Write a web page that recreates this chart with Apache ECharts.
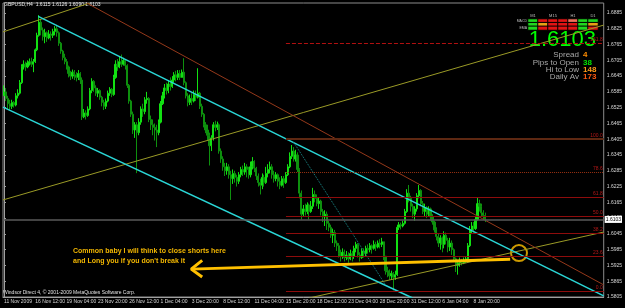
<!DOCTYPE html>
<html>
<head>
<meta charset="utf-8">
<title>GBPUSD,H4</title>
<script src="https://cdn.jsdelivr.net/npm/echarts@6.0.0/dist/echarts.min.js"></script>
<style>
  html, body { margin: 0; padding: 0; background: #000; }
  #main { width: 625px; height: 308px; }
</style>
</head>
<body>
<div id="main"></div>
<script>
// GBPUSD H4 candles (open = previous close)
var firstOpen = 1.6570;
var closes = [
  1.6585,1.6560,1.6540,1.6530,1.6545,1.6535,1.6570,1.6580,1.6620,1.6680,
  1.6690,1.6680,1.6695,1.6700,1.6690,1.6700,1.6745,1.6800,1.6850,1.6820,
  1.6795,1.6810,1.6790,1.6805,1.6800,1.6815,1.6825,1.6810,1.6770,1.6740,
  1.6715,1.6700,1.6680,1.6655,1.6645,1.6660,1.6650,1.6640,1.6655,1.6630,
  1.6490,1.6505,1.6495,1.6520,1.6590,1.6625,1.6600,1.6580,1.6590,1.6565,
  1.6545,1.6530,1.6550,1.6580,1.6595,1.6575,1.6640,1.6690,1.6680,1.6700,
  1.6690,1.6705,1.6685,1.6610,1.6550,1.6500,1.6440,1.6460,1.6430,1.6470,
  1.6520,1.6510,1.6555,1.6560,1.6480,1.6460,1.6450,1.6440,1.6430,1.6470,
  1.6540,1.6570,1.6600,1.6590,1.6615,1.6605,1.6630,1.6650,1.6640,1.6655,
  1.6640,1.6660,1.6620,1.6570,1.6545,1.6560,1.6550,1.6575,1.6565,1.6580,
  1.6530,1.6500,1.6460,1.6440,1.6420,1.6380,1.6410,1.6460,1.6450,1.6460,
  1.6360,1.6330,1.6300,1.6285,1.6300,1.6270,1.6255,1.6275,1.6260,1.6245,
  1.6270,1.6290,1.6280,1.6300,1.6290,1.6270,1.6300,1.6320,1.6295,1.6265,
  1.6240,1.6230,1.6260,1.6240,1.6275,1.6290,1.6300,1.6270,1.6255,1.6270,
  1.6245,1.6230,1.6255,1.6240,1.6270,1.6300,1.6340,1.6360,1.6330,1.6345,
  1.6290,1.6200,1.6120,1.6140,1.6130,1.6155,1.6130,1.6150,1.6195,1.6180,
  1.6160,1.6170,1.6130,1.6110,1.6120,1.6085,1.6070,1.6040,1.6050,1.6010,
  1.6000,1.5970,1.5960,1.5975,1.5955,1.5965,1.5950,1.5970,1.5960,1.5990,
  1.6005,1.5965,1.5955,1.5980,1.5970,1.5990,1.5985,1.6000,1.5990,1.6005,
  1.5995,1.6010,1.6005,1.6015,1.5960,1.5905,1.5900,1.5885,1.5895,1.5880,
  1.5890,1.6070,1.6080,1.6075,1.6085,1.6130,1.6200,1.6180,1.6150,1.6120,
  1.6140,1.6190,1.6210,1.6160,1.6130,1.6145,1.6120,1.6140,1.6110,1.6090,
  1.6060,1.6035,1.6010,1.6030,1.6005,1.6040,1.6020,1.5995,1.6010,1.5985,
  1.5950,1.5925,1.5935,1.5945,1.5935,1.5945,1.5950,1.6000,1.6060,1.6075,
  1.6065,1.6100,1.6160,1.6150,1.6125,1.6115,1.6103
];
var highs = [
  1.6610,1.6600,1.6570,1.6555,1.6555,1.6550,1.6580,1.6595,1.6630,1.6690,
  1.6705,1.6700,1.6705,1.6712,1.6715,1.6710,1.6750,1.6810,1.6877,1.6860,
  1.6830,1.6825,1.6815,1.6820,1.6815,1.6825,1.6835,1.6840,1.6815,1.6775,
  1.6745,1.6730,1.6710,1.6685,1.6665,1.6670,1.6668,1.6660,1.6668,1.6660,
  1.6640,1.6520,1.6515,1.6530,1.6600,1.6637,1.6630,1.6610,1.6600,1.6595,
  1.6570,1.6555,1.6560,1.6590,1.6603,1.6600,1.6650,1.6705,1.6710,1.6720,
  1.6727,1.6715,1.6710,1.6690,1.6615,1.6555,1.6510,1.6470,1.6470,1.6485,
  1.6530,1.6540,1.6565,1.6585,1.6565,1.6495,1.6480,1.6465,1.6460,1.6480,
  1.6550,1.6585,1.6615,1.6620,1.6630,1.6640,1.6645,1.6660,1.6665,1.6668,
  1.6668,1.6670,1.6713,1.6625,1.6580,1.6575,1.6580,1.6590,1.6590,1.6675,
  1.6585,1.6540,1.6505,1.6470,1.6460,1.6430,1.6420,1.6470,1.6475,1.6472,
  1.6465,1.6370,1.6340,1.6315,1.6315,1.6310,1.6285,1.6290,1.6285,1.6270,
  1.6280,1.6300,1.6305,1.6315,1.6310,1.6300,1.6320,1.6337,1.6325,1.6300,
  1.6275,1.6255,1.6275,1.6270,1.6300,1.6310,1.6320,1.6310,1.6285,1.6280,
  1.6275,1.6260,1.6265,1.6265,1.6280,1.6310,1.6355,1.6383,1.6375,1.6365,
  1.6355,1.6295,1.6210,1.6155,1.6160,1.6165,1.6160,1.6170,1.6220,1.6210,
  1.6195,1.6185,1.6175,1.6140,1.6135,1.6130,1.6095,1.6080,1.6065,1.6060,
  1.6020,1.6010,1.5985,1.5990,1.5985,1.5980,1.5975,1.5985,1.5980,1.6000,
  1.6015,1.6010,1.5975,1.5990,1.5990,1.6000,1.6005,1.6010,1.6005,1.6020,
  1.6015,1.6020,1.6025,1.6030,1.6015,1.5960,1.5920,1.5910,1.5905,1.5900,
  1.5905,1.6080,1.6090,1.6088,1.6095,1.6140,1.6215,1.6231,1.6190,1.6160,
  1.6150,1.6200,1.6231,1.6215,1.6170,1.6160,1.6150,1.6150,1.6145,1.6120,
  1.6095,1.6070,1.6045,1.6040,1.6035,1.6055,1.6050,1.6030,1.6030,1.6020,
  1.5990,1.5955,1.5945,1.5955,1.5950,1.5955,1.5960,1.6010,1.6075,1.6090,
  1.6090,1.6110,1.6185,1.6175,1.6160,1.6135,1.6126
];
var lows = [
  1.6570,1.6550,1.6520,1.6515,1.6520,1.6525,1.6530,1.6560,1.6575,1.6615,
  1.6670,1.6665,1.6675,1.6685,1.6680,1.6660,1.6695,1.6740,1.6795,1.6800,
  1.6780,1.6770,1.6775,1.6785,1.6780,1.6790,1.6800,1.6795,1.6760,1.6730,
  1.6705,1.6690,1.6670,1.6640,1.6630,1.6635,1.6630,1.6625,1.6630,1.6615,
  1.6478,1.6485,1.6480,1.6490,1.6515,1.6580,1.6585,1.6570,1.6565,1.6555,
  1.6530,1.6516,1.6520,1.6545,1.6570,1.6565,1.6570,1.6635,1.6665,1.6675,
  1.6680,1.6685,1.6670,1.6600,1.6540,1.6490,1.6425,1.6410,1.6276,1.6420,
  1.6460,1.6490,1.6500,1.6540,1.6470,1.6440,1.6420,1.6400,1.6375,1.6420,
  1.6465,1.6535,1.6560,1.6575,1.6580,1.6590,1.6600,1.6620,1.6625,1.6630,
  1.6630,1.6640,1.6610,1.6560,1.6530,1.6535,1.6535,1.6545,1.6550,1.6560,
  1.6520,1.6490,1.6450,1.6428,1.6400,1.6305,1.6360,1.6400,1.6435,1.6440,
  1.6350,1.6315,1.6285,1.6265,1.6270,1.6255,1.6174,1.6235,1.6240,1.6225,
  1.6235,1.6260,1.6265,1.6270,1.6260,1.6255,1.6260,1.6290,1.6280,1.6250,
  1.6225,1.6195,1.6215,1.6225,1.6235,1.6260,1.6275,1.6255,1.6240,1.6245,
  1.6225,1.6215,1.6225,1.6220,1.6235,1.6265,1.6295,1.6330,1.6320,1.6320,
  1.6280,1.6180,1.6100,1.6110,1.6115,1.6120,1.6100,1.6125,1.6140,1.6165,
  1.6150,1.6140,1.6115,1.6090,1.6075,1.6060,1.6055,1.6030,1.6010,1.5995,
  1.5980,1.5955,1.5940,1.5950,1.5940,1.5945,1.5935,1.5945,1.5940,1.5950,
  1.5975,1.5955,1.5940,1.5950,1.5955,1.5960,1.5970,1.5975,1.5970,1.5985,
  1.5980,1.5990,1.5990,1.5995,1.5945,1.5890,1.5880,1.5870,1.5870,1.5830,
  1.5870,1.5885,1.6060,1.6062,1.6070,1.6080,1.6125,1.6165,1.6130,1.6105,
  1.6095,1.6130,1.6180,1.6150,1.6120,1.6110,1.6105,1.6110,1.6095,1.6080,
  1.6050,1.6020,1.5995,1.5985,1.5975,1.5990,1.6005,1.5975,1.5980,1.5965,
  1.5940,1.5900,1.5890,1.5920,1.5925,1.5930,1.5935,1.5945,1.5995,1.6045,
  1.6050,1.6060,1.6095,1.6130,1.6110,1.6100,1.6090
];
var lastPrice = 1.6103;

// x axis: one slot per H4 bar, a date label every 16 bars
var slotCount = 307;
var barsPerLabel = 16;
var dateLabels = ['11 Nov 2009', '16 Nov 12:00', '19 Nov 04:00', '23 Nov 20:00',
  '26 Nov 12:00', '1 Dec 04:00', '3 Dec 20:00', '8 Dec 12:00', '11 Dec 04:00',
  '15 Dec 20:00', '18 Dec 12:00', '23 Dec 04:00', '28 Dec 20:00', '31 Dec 12:00',
  '6 Jan 04:00', '8 Jan 20:00'];

// price scale
var priceMin = 1.5805;
var priceMax = 1.6923;
var priceStep = 0.006;

// drawn objects, as [bar, price] anchors
var cyanUpper = [[17.5, 1.6872], [306.5, 1.5809]];
var cyanLower = [[-0.5, 1.6527], [208.8, 1.5801]];
var cyanDotted = [[148.0, 1.6394], [195.0, 1.5851]];
var oliveTop = [[-0.5, 1.6813], [43.8, 1.6923]];
var oliveMid = [[-0.5, 1.6174], [306.5, 1.6839]];
var oliveLow = [[155.8, 1.5801], [306.5, 1.6052]];
var brownLine = [[42.3, 1.6923], [306.5, 1.5851]];
var arrowShaft = [[95.7, 1.5911], [258.7, 1.5949]];
var arrowHead = [[101.3, 1.5944], [95.7, 1.5911], [101.3, 1.5881]];
var ringAt = [[263.2, 1.5972]];

// fibonacci levels
var fibStart = 144.1;
var fibNames = ['161.8', '100.0', '78.6', '61.8', '50.0', '38.2', '23.6', '0.0'];
var fibPrices = [1.6771, 1.6406, 1.6280, 1.6185, 1.6113, 1.6048, 1.5961, 1.5828];

// signal panel: 1 up, 0 flat, -0.5 weak down, -1 down
var timeframes = ['M1', 'M5', 'M15', 'M30', 'H1', 'H4', 'D1'];
var signalRows = ['MACD', 'STR', 'EMA'];
var signals = [
  [1, 1, 1], [-1, 0, -1], [-1, -1, -1], [-1, -1, -1],
  [-0.5, -1, -1], [1, 1, 1], [1, 0, -1]
];
var infoNames = ['Spread', 'Pips to Open', 'Hi to Low', 'Daily Av'];
var infoValues = ['4', '38', '148', '173'];

var titleText = 'GBPUSD,H4  1.6115 1.6126 1.6090 1.6103';
var copyText = 'Windsor Direct 4, \u00a9 2001-2009 MetaQuotes Software Corp.';
var noteLines = ['Common baby I will think to close shorts here',
  'and Long you if you don\'t break it'];

var FONT = '"Liberation Sans", Arial, sans-serif';
var UP = '#12e012';
var DOWN = '#0e900e';
var signalColors = { '1': '#1fd81f', '0': '#e8a014', '-0.5': '#f0705a', '-1': '#e01414' };

var categories = [];
for (var i = 0; i < slotCount; i++) categories.push(String(i));

// each candle carries its own colour so the thin bodies stay green
var candles = closes.map(function (c, i) {
  var o = i === 0 ? firstOpen : closes[i - 1];
  var col = c >= o ? UP : DOWN;
  return {
    value: [o, c, Math.min(lows[i], o, c), Math.max(highs[i], o, c)],
    itemStyle: { color: col, color0: col, borderColor: col, borderColor0: col, borderColorDoji: col }
  };
});

function labelAt(idx) {
  return idx % barsPerLabel === 0 && idx / barsPerLabel < dateLabels.length;
}

function trend(data, color, width, type) {
  return {
    type: 'line', xAxisIndex: 1, yAxisIndex: 0, data: data,
    symbol: 'none', silent: true, clip: true,
    lineStyle: { color: color, width: width, type: type || 'solid' }
  };
}

var fibStyles = {
  '161.8': { color: '#b01010', width: 1, type: 'dashed' },
  '100.0': { color: '#5e2812', width: 2, type: 'solid' },
  '78.6': { color: '#9a3010', width: 1, type: 'dotted' }
};

var fibLines = fibNames.map(function (n, k) {
  var st = fibStyles[n] || { color: '#8e0c0c', width: 1, type: 'solid' };
  return [
    { coord: [fibStart, fibPrices[k]], name: n, lineStyle: st },
    { coord: [slotCount - 0.5, fibPrices[k]] }
  ];
});

var heat = [];
signals.forEach(function (col, x) {
  col.forEach(function (v, y) {
    heat.push({ value: [x, y, v], itemStyle: { color: signalColors[String(v)] } });
  });
});

var graphics = [
  { type: 'text', x: 4, y: 5, style: { text: titleText, fill: '#e8e8e8', font: '5px ' + FONT, verticalAlign: 'middle' } },
  { type: 'text', x: 3, y: 293, style: { text: copyText, fill: '#e0e0e0', font: '5px ' + FONT, verticalAlign: 'middle' } },
  { type: 'text', x: 596, y: 40, style: { text: lastPrice.toFixed(4), fill: '#00ff00', font: '22px ' + FONT, align: 'right', verticalAlign: 'middle' } }
];
noteLines.forEach(function (t, k) {
  graphics.push({ type: 'text', x: 73, y: 251 + k * 10,
    style: { text: t, fill: '#f2b600', font: 'bold 7px ' + FONT, verticalAlign: 'middle' } });
});
var infoColors = ['#ff8c00', '#00e600', '#ff9c1a', '#ff5a10'];
infoNames.forEach(function (t, k) {
  var y = 55 + k * 7.4;
  graphics.push({ type: 'text', x: 579, y: y,
    style: { text: t, fill: '#a8a8a8', font: '8px ' + FONT, align: 'right', verticalAlign: 'middle' } });
  graphics.push({ type: 'text', x: 583, y: y,
    style: { text: infoValues[k], fill: infoColors[k], font: 'bold 8px ' + FONT, verticalAlign: 'middle' } });
});

var chart = echarts.init(document.getElementById('main'), null, { renderer: 'canvas' });
chart.setOption({
  backgroundColor: '#000',
  animation: false,
  textStyle: { fontFamily: FONT },
  grid: [
    { left: 3, right: 19, top: 3, bottom: 11, show: true, borderColor: '#8c8c8c', borderWidth: 1 },
    { left: 528, top: 19, width: 70, height: 11 }
  ],
  xAxis: [
    {
      type: 'category', gridIndex: 0, data: categories, boundaryGap: true,
      axisLine: { lineStyle: { color: '#a0a0a0' } },
      axisTick: { alignWithLabel: true, interval: labelAt, length: 2, lineStyle: { color: '#a0a0a0' } },
      axisLabel: {
        interval: labelAt, color: '#d8d8d8', fontSize: 5, margin: 2, align: 'left',
        formatter: function (v, idx) { return dateLabels[idx / barsPerLabel] || ''; }
      },
      splitLine: { show: false }
    },
    { type: 'value', gridIndex: 0, min: -0.5, max: slotCount - 0.5, show: false },
    {
      type: 'category', gridIndex: 1, data: timeframes, position: 'top',
      axisLine: { show: false }, axisTick: { show: false },
      axisLabel: { color: '#bdbdbd', fontSize: 4, margin: 1 }
    }
  ],
  yAxis: [
    {
      type: 'value', gridIndex: 0, position: 'right',
      min: priceMin, max: priceMax, interval: priceStep,
      axisLine: { show: true, lineStyle: { color: '#a0a0a0' } },
      axisTick: { show: true, length: 2, lineStyle: { color: '#a0a0a0' } },
      axisLabel: {
        color: '#d8d8d8', fontSize: 5, margin: 3, showMaxLabel: false,
        formatter: function (v) { return v.toFixed(4); }
      },
      splitLine: { show: false }
    },
    {
      type: 'category', gridIndex: 1, data: signalRows, inverse: true,
      axisLine: { show: false }, axisTick: { show: false },
      axisLabel: { color: '#bdbdbd', fontSize: 3.5, margin: 1 }
    }
  ],
  series: [
    {
      type: 'candlestick', xAxisIndex: 0, yAxisIndex: 0, data: candles,
      barWidth: 1.6, silent: true,
      itemStyle: { color: UP, color0: DOWN, borderColor: UP, borderColor0: DOWN, borderWidth: 1 },
      markLine: {
        silent: true, symbol: ['none', 'none'],
        lineStyle: { color: '#5a5a5a', width: 1.5, type: 'solid' },
        label: {
          position: 'end', distance: 1, formatter: lastPrice.toFixed(4),
          backgroundColor: '#ffffff', color: '#000', fontSize: 5, padding: [1, 1]
        },
        data: [{ yAxis: lastPrice }]
      }
    },
    {
      type: 'line', xAxisIndex: 1, yAxisIndex: 0, data: [], symbol: 'none', silent: true,
      markLine: {
        silent: true, symbol: ['none', 'none'],
        label: { position: 'insideEndTop', formatter: '{b}', color: '#b41818', fontSize: 5, distance: 1 },
        data: fibLines
      }
    },
    trend(oliveTop, '#9a9a26', 1),
    trend(oliveMid, '#9a9a26', 1),
    trend(oliveLow, '#9a9a26', 1),
    trend(brownLine, '#94381a', 1),
    trend(cyanUpper, '#2ad6d6', 1.5),
    trend(cyanLower, '#2ad6d6', 1.5),
    trend(cyanDotted, '#1a8c8c', 1, 'dotted'),
    trend(arrowShaft, '#ffc000', 3),
    trend(arrowHead, '#ffc000', 3),
    {
      type: 'scatter', xAxisIndex: 1, yAxisIndex: 0, data: ringAt,
      symbol: 'circle', symbolSize: 16, silent: true,
      itemStyle: { color: 'rgba(0,0,0,0)', borderColor: '#ffc000', borderWidth: 2 }
    },
    {
      type: 'heatmap', xAxisIndex: 2, yAxisIndex: 1, data: heat, silent: true,
      itemStyle: { borderColor: '#000', borderWidth: 1 }
    }
  ],
  graphic: graphics
});
</script>
</body>
</html>
